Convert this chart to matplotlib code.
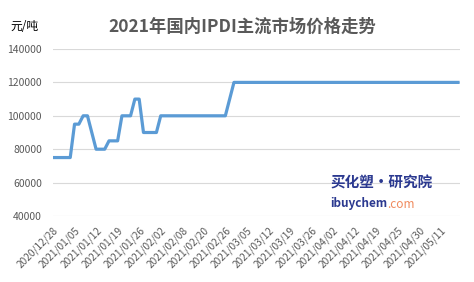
import matplotlib
matplotlib.use("Agg")
import matplotlib.pyplot as plt
import matplotlib.transforms as mtransforms

plt.rcParams['font.family'] = ['Noto Sans CJK SC', 'DejaVu Sans']

TITLE = "2021年国内IPDI主流市场价格走势"
UNIT = "元/吨"

# one value per trading day, a date label every 5th day
PRICES = [
  75000, 75000, 75000, 75000, 75000, 95000, 95000, 100000, 100000, 90000,
  80000, 80000, 80000, 85000, 85000, 85000, 100000, 100000, 100000, 110000,
  110000, 90000, 90000, 90000, 90000, 100000, 100000, 100000, 100000, 100000,
  100000, 100000, 100000, 100000, 100000, 100000, 100000, 100000, 100000, 100000,
  100000, 110000, 120000, 120000, 120000, 120000, 120000, 120000, 120000, 120000,
  120000, 120000, 120000, 120000, 120000, 120000, 120000, 120000, 120000, 120000,
  120000, 120000, 120000, 120000, 120000, 120000, 120000, 120000, 120000, 120000,
  120000, 120000, 120000, 120000, 120000, 120000, 120000, 120000, 120000, 120000,
  120000, 120000, 120000, 120000, 120000, 120000, 120000, 120000, 120000, 120000,
  120000, 120000, 120000, 120000, 120000,
]
DATE_LABELS = [
  "2020/12/28", "2021/01/05", "2021/01/12", "2021/01/19", "2021/01/26",
  "2021/02/02", "2021/02/08", "2021/02/20", "2021/02/26", "2021/03/05",
  "2021/03/12", "2021/03/19", "2021/03/26", "2021/04/02", "2021/04/12",
  "2021/04/19", "2021/04/25", "2021/04/30", "2021/05/11",
]
LABEL_STEP = 5
Y_TICKS = [40000, 60000, 80000, 100000, 120000, 140000]

GRAY = "#595959"

fig = plt.figure(figsize=(4.74, 2.82), dpi=100)
ax = fig.add_axes([53 / 474, 66 / 282, 407 / 474, 167 / 282])

x = list(range(len(PRICES)))
ax.plot(x, PRICES, color="#5B9BD5", lw=2.3, solid_joinstyle="round", zorder=3)

ax.set_ylim(40000, 140000)
ax.set_yticks(Y_TICKS)
ax.set_xlim(0, (len(PRICES) - 1) * 407 / 405)
ticks = [i * LABEL_STEP for i in range(len(DATE_LABELS))]
ax.set_xticks(ticks)
ax.set_xticklabels(DATE_LABELS, rotation=45, ha="right",
                   rotation_mode="anchor", fontsize=7.3, color=GRAY)
# excel puts the label ends a bit right of the category
shift = mtransforms.ScaledTranslation(0.08, 0, fig.dpi_scale_trans)
for lbl in ax.get_xticklabels():
  lbl.set_transform(lbl.get_transform() + shift)
ax.tick_params(axis="y", labelsize=7.5, labelcolor=GRAY, length=0, pad=8)
ax.tick_params(axis="x", length=0, pad=6.5)
ax.grid(axis="y", color="#d9d9d9", lw=0.8)
ax.set_axisbelow(True)
for s in ax.spines.values():
  s.set_visible(False)

fig.text(242 / 474, 1 - 27 / 282, TITLE, ha="center", va="center",
         fontsize=12.5, fontweight="bold", color=GRAY)
fig.text(10 / 474, 1 - 27 / 282, UNIT, ha="left", va="center", fontsize=8.5, color="black")

# watermark
fig.text(330 / 474, 1 - 183 / 282, "买化塑·研究院", ha="left", va="center",
         fontsize=10.5, fontweight="bold", style="italic", color="#2b3990")
site = fig.text(330 / 474, 1 - 204 / 282, "ibuychem", ha="left", va="center",
                fontsize=8.5, fontweight="semibold", color="#2b3990")
renderer = fig.canvas.get_renderer()
end_x = site.get_window_extent(renderer).x1
fig.text(end_x / fig.bbox.width + 0.5 / 474, 1 - 204 / 282, ".com", ha="left", va="center",
         fontsize=8.5, color="#f08a5d")

fig.savefig("out.png", dpi=100)
